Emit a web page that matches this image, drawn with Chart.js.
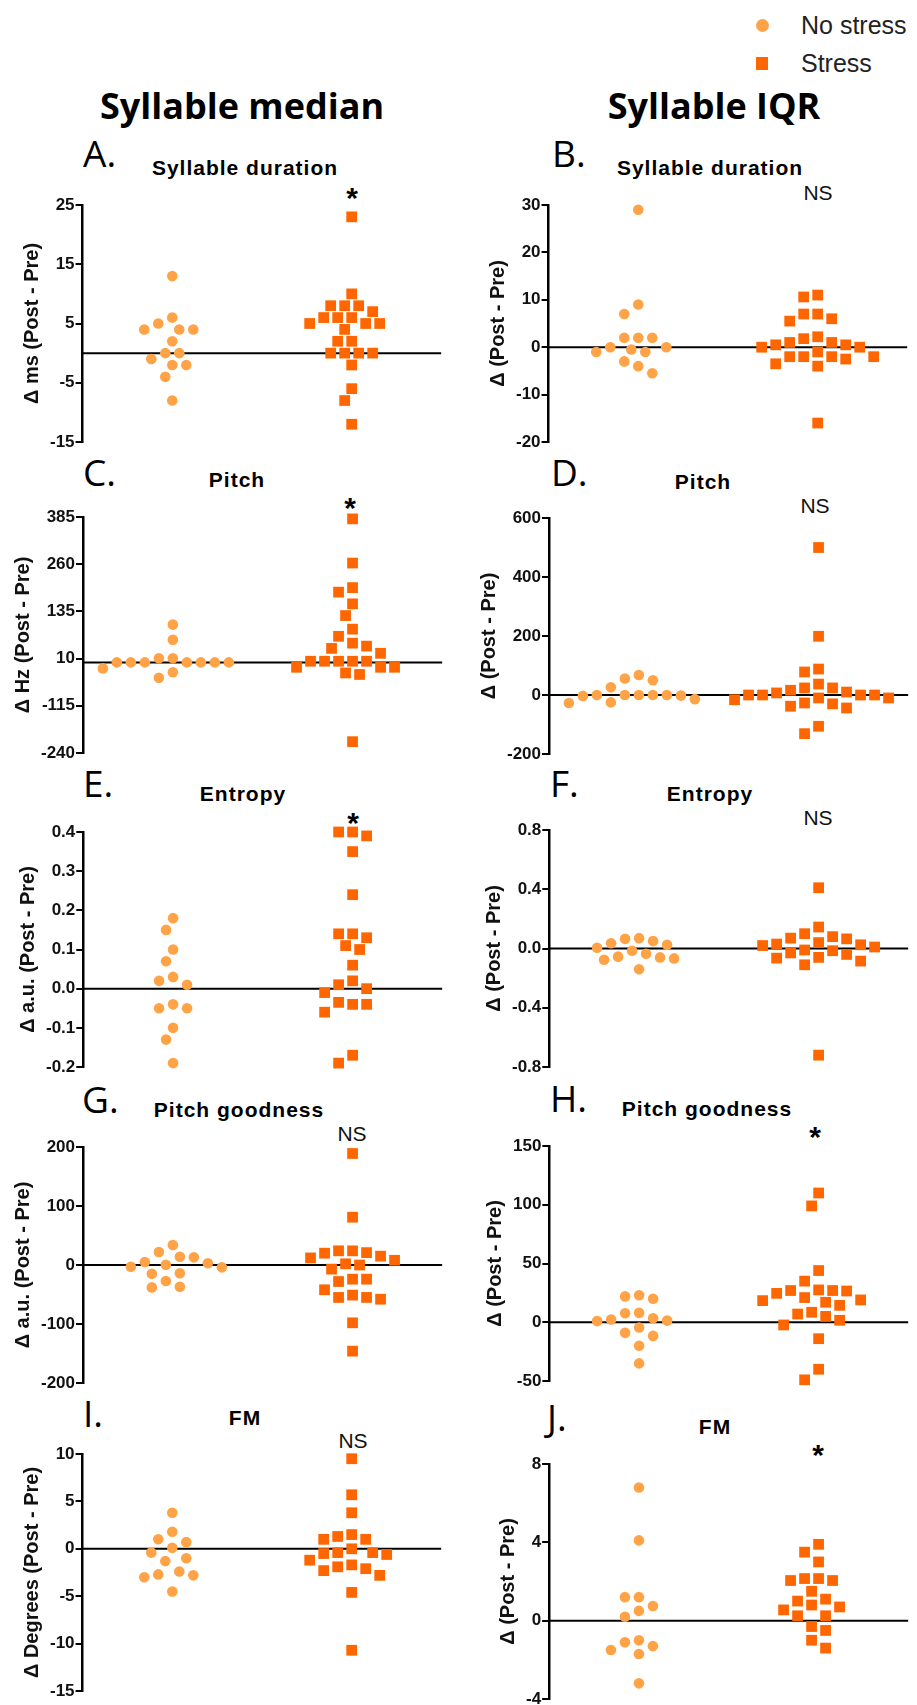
<!DOCTYPE html>
<html>
<head>
<meta charset="utf-8">
<script src="https://cdn.jsdelivr.net/npm/chart.js@4.4.0/dist/chart.umd.min.js"></script>
<style>
body { margin: 0; background: #fff; }
#page { position: relative; width: 917px; height: 1705px; overflow: hidden; background: #fff; }
canvas { position: absolute; }
.t { position: absolute; white-space: nowrap; line-height: 1; color: #000; transform: translate(-50%, -50%); }
.head { font-family: 'Open Sans'; font-weight: 700; font-size: 36px; }
.letter { font-family: 'Open Sans'; font-size: 37px; transform: translateY(-50%); }
.sub { font-family: 'Liberation Sans'; font-weight: 700; font-size: 21px; letter-spacing: 1px; }
.ns { font-family: 'Liberation Sans'; font-size: 21px; color: #111; }
.star { font-family: 'Liberation Sans'; font-weight: 700; font-size: 30px; transform: translate(-50%, -29%); }
.leg { font-family: 'Liberation Sans'; font-size: 25px; color: #222; transform: translateY(-50%); }
.mk { position: absolute; }
</style>
</head>
<body>
<div id="page"></div>
<script>
const groups = ['No stress', 'Stress'];
const noStressColor = '#FFA346';
const stressColor = '#FF6600';

// A. syllable duration (median)
const durMedianNo = [13, 6, 5, 4, 4, 4, 2, 0, 0, -1, -2, -2, -4, -8];
const durMedianStress = [23, 10, 8, 8, 8, 7, 6, 6, 6, 5, 5, 5, 4, 2, 2, 0, 0, 0, 0, -2, -6, -8, -12];
const durMedianTicks = [-15, -5, 5, 15, 25];
// B. syllable duration (IQR)
const durIqrNo = [29, 9, 7, 2, 2, 2, 0, 0, -0.5, -1, -1, -3, -4, -5.5];
const durIqrStress = [11, 10.6, 7, 7, 6, 5.5, 2.2, 1.8, 1, 1, 0.5, 0.5, 0, 0, -1, -2, -2, -2, -2, -2.5, -3.5, -4, -16];
const durIqrTicks = [-20, -10, 0, 10, 20, 30];
// C. pitch (median)
const pitchMedianNo = [100, 60, 11, 11, 0, 0, 0, 0, 0, 0, 0, -16, -26, -41];
const pitchMedianStress = [380, 263, 198, 186, 155, 124, 88, 69, 51, 43, 37, 24, 3, 3, 3, 3, 3, -13, -13, -13, -28, -32, -210];
const pitchMedianTicks = [-240, -115, 10, 135, 260, 385];
// D. pitch (IQR)
const pitchIqrNo = [68, 56, 50, 26, 0, 0, 0, 0, 0, -2, -3, -14, -25, -27];
const pitchIqrStress = [500, 199, 88, 78, 37, 24, 24, 16, 10, 7, 0, 0, 0, 0, -10, -10, -16, -27, -30, -38, -44, -106, -131];
const pitchIqrTicks = [-200, 0, 200, 400, 600];
// E. entropy (median)
const entMedianNo = [0.18, 0.15, 0.10, 0.07, 0.03, 0.02, 0.01, -0.04, -0.05, -0.05, -0.10, -0.13, -0.19];
const entMedianStress = [0.40, 0.40, 0.39, 0.35, 0.24, 0.14, 0.14, 0.13, 0.11, 0.10, 0.06, 0.02, 0.01, 0.00, -0.01, -0.04, -0.035, -0.04, -0.06, -0.17, -0.19];
const entMedianTicks = [-0.2, -0.1, 0, 0.1, 0.2, 0.3, 0.4];
// F. entropy (IQR)
const entIqrNo = [0.07, 0.065, 0.05, 0.035, 0.025, 0.005, -0.015, -0.035, -0.055, -0.06, -0.067, -0.076, -0.14];
const entIqrStress = [0.41, 0.145, 0.10, 0.08, 0.07, 0.065, 0.04, 0.03, 0.025, 0.02, 0.01, -0.01, -0.015, -0.03, -0.04, -0.06, -0.065, -0.085, -0.11, -0.72];
const entIqrTicks = [-0.8, -0.4, 0, 0.4, 0.8];
// G. pitch goodness (median)
const goodMedianNo = [34, 22, 14, 13, 5, 3, 0.5, -3, -4, -14, -15, -27, -37, -38];
const goodMedianStress = [189, 81, 24, 24, 21, 20, 15, 12, 8, 2, 0, -7, -24, -24, -28, -42, -51, -55, -55, -58, -98, -146];
const goodMedianTicks = [-200, -100, 0, 100, 200];
// H. pitch goodness (IQR)
const goodIqrNo = [23, 22, 20, 8, 7.6, 3.4, 2.3, 1.4, 1, -4.5, -9, -11.6, -20, -35];
const goodIqrStress = [110, 99, 44, 35, 27.5, 27, 27, 26.6, 24.6, 21, 19, 18.4, 17, 14.4, 8.5, 7, 5, 1.7, -2.3, -14, -40, -49];
const goodIqrTicks = [-50, 0, 50, 100, 150];
// I. FM (median)
const fmMedianNo = [3.8, 1.8, 1.0, 0.7, 0.1, -0.4, -1.0, -1.3, -2.4, -2.7, -2.8, -3.0, -4.5];
const fmMedianStress = [9.5, 5.7, 3.8, 1.5, 1.3, 1.0, 1.0, 0.0, -0.4, -0.4, -0.5, -0.6, -1.2, -1.7, -1.9, -2.1, -2.3, -2.8, -4.6, -10.7];
const fmMedianTicks = [-15, -10, -5, 0, 5, 10];
// J. FM (IQR)
const fmIqrNo = [6.8, 4.1, 1.2, 1.2, 0.75, 0.5, 0.2, -1.0, -1.1, -1.3, -1.5, -1.7, -3.2];
const fmIqrStress = [3.9, 3.5, 3.0, 2.15, 2.15, 2.05, 2.05, 1.5, 1.1, 1.0, 0.8, 0.7, 0.55, 0.25, 0.25, -0.3, -0.5, -1.0, -1.4];
const fmIqrTicks = [-4, 0, 4, 8];

const panels = [
    { no: durMedianNo, stress: durMedianStress, ticks: durMedianTicks, dec: 0, yTitle: 'Δ ms (Post - Pre)', left: 83, top: 205, height: 237 },
    { no: durIqrNo, stress: durIqrStress, ticks: durIqrTicks, dec: 0, yTitle: 'Δ (Post - Pre)', left: 549, top: 205, height: 237 },
    { no: pitchMedianNo, stress: pitchMedianStress, ticks: pitchMedianTicks, dec: 0, yTitle: 'Δ Hz (Post - Pre)', left: 83, top: 517, height: 236 },
    { no: pitchIqrNo, stress: pitchIqrStress, ticks: pitchIqrTicks, dec: 0, yTitle: 'Δ (Post - Pre)', left: 549, top: 518, height: 236 },
    { no: entMedianNo, stress: entMedianStress, ticks: entMedianTicks, dec: 1, yTitle: 'Δ a.u. (Post - Pre)', left: 83, top: 832, height: 235 },
    { no: entIqrNo, stress: entIqrStress, ticks: entIqrTicks, dec: 1, yTitle: 'Δ (Post - Pre)', left: 549, top: 830, height: 237 },
    { no: goodMedianNo, stress: goodMedianStress, ticks: goodMedianTicks, dec: 0, yTitle: 'Δ a.u. (Post - Pre)', left: 83, top: 1147, height: 236 },
    { no: goodIqrNo, stress: goodIqrStress, ticks: goodIqrTicks, dec: 0, yTitle: 'Δ (Post - Pre)', left: 549, top: 1146, height: 235 },
    { no: fmMedianNo, stress: fmMedianStress, ticks: fmMedianTicks, dec: 0, yTitle: 'Δ Degrees (Post - Pre)', left: 83, top: 1454, height: 237 },
    { no: fmIqrNo, stress: fmIqrStress, ticks: fmIqrTicks, dec: 0, yTitle: 'Δ (Post - Pre)', left: 549, top: 1464, height: 235 }
];
const PLOT_W = 359;

const page = document.getElementById('page');

function addText(text, x, y, cls) {
    const d = document.createElement('div');
    d.className = 't ' + cls;
    d.textContent = text;
    d.style.left = x + 'px';
    d.style.top = y + 'px';
    page.appendChild(d);
}

// headers, legend, panel letters, titles, significance marks
addText('Syllable median', 242, 106, 'head');
addText('Syllable IQR', 714, 106, 'head');

const mk1 = document.createElement('div');
mk1.className = 'mk';
mk1.style.cssText = 'left:756px;top:19px;width:13px;height:13px;border-radius:50%;background:' + noStressColor;
page.appendChild(mk1);
const mk2 = document.createElement('div');
mk2.className = 'mk';
mk2.style.cssText = 'left:756px;top:57px;width:12px;height:13px;background:' + stressColor;
page.appendChild(mk2);
addText(groups[0], 801, 25, 'leg');
addText(groups[1], 801, 63, 'leg');

const letters = [['A.', 83, 152], ['B.', 552, 152], ['C.', 83, 471], ['D.', 551, 471], ['E.', 83, 782],
    ['F.', 550, 782], ['G.', 82, 1098], ['H.', 550, 1097], ['I.', 83, 1412], ['J.', 547, 1416]];
letters.forEach(l => addText(l[0], l[1], l[2], 'letter'));

const subtitles = [['Syllable duration', 245, 167], ['Syllable duration', 710, 167], ['Pitch', 237, 479], ['Pitch', 703, 481],
    ['Entropy', 243, 793], ['Entropy', 710, 793], ['Pitch goodness', 239, 1109], ['Pitch goodness', 707, 1108],
    ['FM', 245, 1417], ['FM', 715, 1426]];
subtitles.forEach(s => addText(s[0], s[1], s[2], 'sub'));

const marks = [['*', 352, 192], ['NS', 818, 192], ['*', 350, 502], ['NS', 815, 505], ['*', 353, 817],
    ['NS', 818, 817], ['NS', 352, 1133], ['*', 815, 1131], ['NS', 353, 1440], ['*', 818, 1449]];
marks.forEach(m => addText(m[0], m[1], m[2], m[0] === '*' ? 'star' : 'ns'));

function chartConfig(p) {
    const lo = p.ticks[0], hi = p.ticks[p.ticks.length - 1];
    return {
        type: 'scatter',
        data: {
            datasets: [
                { label: groups[0], data: p.no.map(v => ({ x: 1, y: v })), pointStyle: 'circle', pointRadius: 5.3,
                  backgroundColor: noStressColor, borderColor: noStressColor, borderWidth: 0, order: 1, clip: false },
                { label: groups[1], data: p.stress.map(v => ({ x: 3, y: v })), pointStyle: 'rect', pointRadius: 7.6,
                  backgroundColor: stressColor, borderColor: stressColor, borderWidth: 0, order: 1, clip: false },
                { type: 'line', data: [{ x: 0, y: 0 }, { x: 4, y: 0 }], borderColor: '#000', borderWidth: 2,
                  pointRadius: 0, order: 2 }
            ]
        },
        options: {
            responsive: false,
            maintainAspectRatio: false,
            animation: false,
            layout: { padding: { top: 14, bottom: 14, left: 4, right: 6 } },
            plugins: { legend: { display: false }, tooltip: { enabled: false } },
            scales: {
                x: { type: 'linear', display: false, min: 0, max: 4 },
                y: {
                    min: lo,
                    max: hi,
                    afterBuildTicks: axis => { axis.ticks = p.ticks.map(v => ({ value: v })); },
                    ticks: {
                        autoSkip: false,
                        padding: 1,
                        color: '#111',
                        font: { family: 'Liberation Sans', size: 17, weight: 'bold' },
                        callback: v => Number(v).toFixed(p.dec)
                    },
                    grid: { display: true, drawOnChartArea: false, drawTicks: true, tickLength: 7,
                            color: '#000', tickColor: '#000', tickWidth: 2, lineWidth: 2 },
                    border: { display: true, color: '#000', width: 2.5 },
                    title: {
                        display: true,
                        text: p.yTitle,
                        color: '#111',
                        padding: { top: 0, bottom: 5 },
                        font: { family: 'Liberation Sans', size: 20, weight: 'bold' }
                    }
                }
            }
        }
    };
}

function build(p, w, h) {
    const canvas = document.createElement('canvas');
    canvas.width = w;
    canvas.height = h;
    page.appendChild(canvas);
    return new Chart(canvas.getContext('2d'), chartConfig(p));
}

// spread dots sideways so they don't overlap (column scatter)
function swarm(chart, values, center) {
    const xs = chart.scales.x, ys = chart.scales.y;
    const cx = xs.getPixelForValue(center);
    const placed = [];
    return values.map(v => {
        const py = ys.getPixelForValue(v);
        let px = cx;
        for (let k = 0; k < 60; k++) {
            const off = k === 0 ? 0 : (k % 2 ? -1 : 1) * Math.ceil(k / 2) * 7;
            if (placed.every(q => Math.hypot(q.x - (cx + off), q.y - py) >= 13.5)) {
                px = cx + off;
                break;
            }
        }
        placed.push({ x: px, y: py });
        return { x: xs.getValueForPixel(px), y: v };
    });
}

panels.forEach(p => {
    let w = PLOT_W + 120, h = p.height + 40;
    let chart = build(p, w, h);
    const dw = PLOT_W - chart.chartArea.width;
    const dh = p.height - chart.chartArea.height;
    if (Math.abs(dw) > 0.5 || Math.abs(dh) > 0.5) {
        const c = chart.canvas;
        chart.destroy();
        c.remove();
        chart = build(p, Math.round(w + dw), Math.round(h + dh));
    }
    chart.canvas.style.left = Math.round(p.left - chart.chartArea.left) + 'px';
    chart.canvas.style.top = Math.round(p.top - chart.chartArea.top) + 'px';
    chart.data.datasets[0].data = swarm(chart, p.no, 1);
    chart.data.datasets[1].data = swarm(chart, p.stress, 3);
    chart.update('none');
});
</script>
</body>
</html>
